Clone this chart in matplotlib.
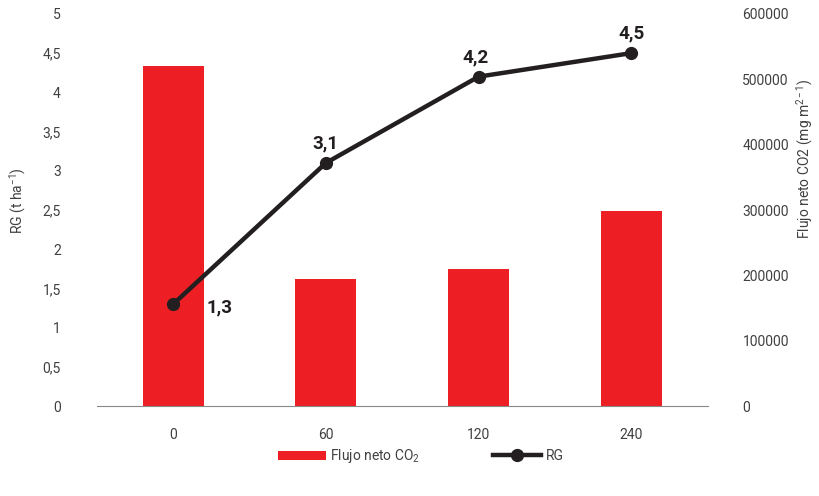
import numpy as np
import matplotlib.pyplot as plt
from matplotlib.lines import Line2D
from matplotlib.patches import Patch

plt.rcParams['font.family'] = ['Roboto', 'DejaVu Sans']
plt.rcParams['mathtext.fontset'] = 'custom'
plt.rcParams['mathtext.rm'] = 'Roboto'
plt.rcParams['mathtext.it'] = 'Roboto'
plt.rcParams['mathtext.bf'] = 'Roboto:bold'

categories = ['0', '60', '120', '240']
flujo_co2 = [520000, 195000, 210000, 298000]
rg = [1.3, 3.1, 4.2, 4.5]
rg_labels = ['1,3', '3,1', '4,2', '4,5']
left_ticks = [0, 0.5, 1, 1.5, 2, 2.5, 3, 3.5, 4, 4.5, 5]
left_ticklabels = ['0', '0,5', '1', '1,5', '2', '2,5', '3', '3,5', '4', '4,5', '5']
right_ticks = [0, 100000, 200000, 300000, 400000, 500000, 600000]

red = '#ed1f24'
dark = '#231f20'
txt = '#404040'

fig = plt.figure(figsize=(8.2, 4.96), dpi=100)
ax = fig.add_axes([0.118, 0.181, 0.745, 0.791])
ax2 = ax.twinx()

x = np.arange(len(categories))

# bars on the right axis, line on the left
ax2.bar(x, flujo_co2, width=0.4, color=red, zorder=1)
ax2.set_ylim(0, 600000)
ax2.set_yticks(right_ticks)
ax2.set_yticklabels([str(v) for v in right_ticks])
ax2.set_ylabel('Flujo neto CO2 (mg m$^{2-1}$)', color=txt, fontsize=10, labelpad=4)
ax2.yaxis.label.set_y(0.63)

ax.set_zorder(ax2.get_zorder() + 1)
ax.patch.set_visible(False)
ax.plot(x, rg, color=dark, lw=3.2, marker='o', ms=8.5, zorder=3)
ax.set_ylim(0, 5)
ax.set_xlim(-0.5, len(categories) - 0.5)
ax.set_yticks(left_ticks)
ax.set_yticklabels(left_ticklabels)
ax.set_xticks(x)
ax.set_xticklabels(categories)
ax.set_ylabel('RG (t ha$^{-1}$)', color=txt, fontsize=10, labelpad=10)
ax.yaxis.label.set_y(0.525)

offsets = [(24, -2), (0, 14), (-2, 14), (0, 14)]
for xi, yi, lab, off in zip(x, rg, rg_labels, offsets):
    ax.annotate(lab, (xi, yi), xytext=off, textcoords='offset points',
                ha='left' if off[0] > 10 else 'center', va='center',
                fontsize=13.5, fontweight='bold', color=dark)

for a in (ax, ax2):
    for s in a.spines.values():
        s.set_visible(False)
    a.tick_params(length=0, colors=txt, labelsize=10)
ax.spines['bottom'].set_visible(True)
ax.spines['bottom'].set_color('#888888')
ax.tick_params(axis='y', pad=26)
ax.tick_params(axis='x', pad=16)
ax2.tick_params(axis='y', pad=25)

handles = [Patch(facecolor=red, edgecolor='none'),
           Line2D([0], [0], color=dark, lw=3.2, marker='o', ms=8.5)]
fig.legend(handles, ['Flujo neto CO$_2$', 'RG'], loc='center', ncol=2,
           bbox_to_anchor=(0.513, 0.08), frameon=False, fontsize=10,
           handlelength=3.5, handletextpad=0.3, columnspacing=5.2,
           labelcolor=txt)

fig.savefig('out.png', dpi=100)
